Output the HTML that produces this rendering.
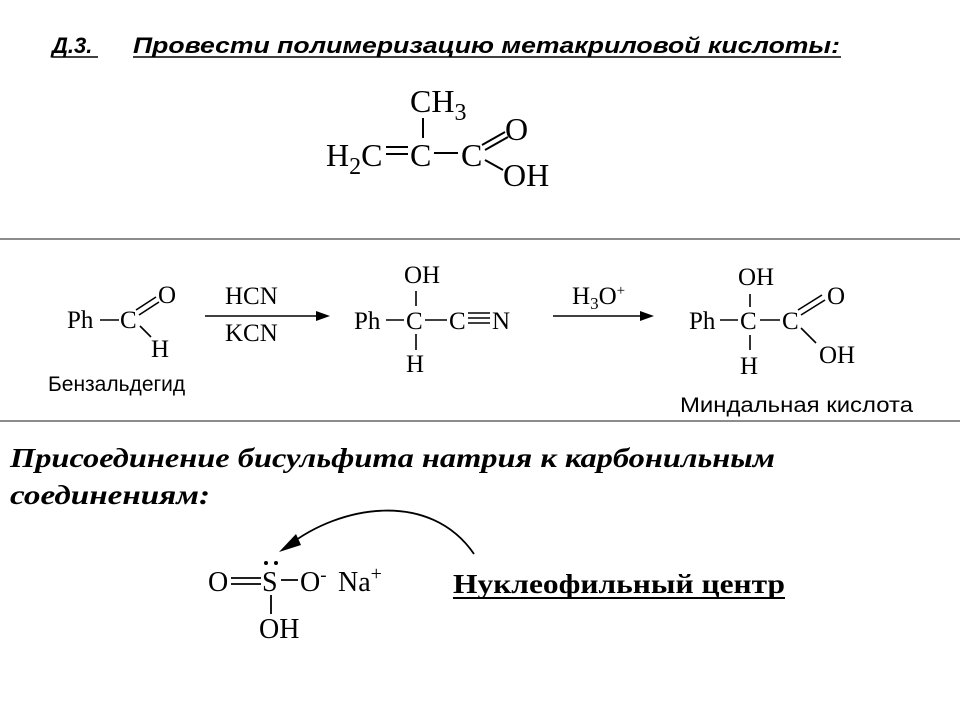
<!DOCTYPE html>
<html><head><meta charset="utf-8"><style>
html,body{margin:0;padding:0;background:#fff;}
svg{display:block;}
.t{font-family:"Liberation Serif",serif;fill:#000;}
.a{font-family:"Liberation Sans",sans-serif;fill:#000;}
</style></head><body>
<svg width="960" height="720" viewBox="0 0 960 720" xmlns="http://www.w3.org/2000/svg">
<rect width="960" height="720" fill="#fff"/>
<!-- title -->
<text class="a" x="52" y="53" font-size="22" font-weight="bold" font-style="italic">Д.3.</text>
<line x1="52" y1="57" x2="98" y2="57" stroke="#000" stroke-width="1.5"/>
<text class="a" x="133" y="53" font-size="22" font-weight="bold" font-style="italic" textLength="707" lengthAdjust="spacingAndGlyphs">Провести полимеризацию метакриловой кислоты:</text>
<line x1="133" y1="57" x2="841" y2="57" stroke="#000" stroke-width="1.5"/>
<!-- methacrylic acid -->
<g class="t" font-size="32">
<text x="410" y="112">CH<tspan font-size="24" dy="8">3</tspan></text>
<text x="326" y="166">H<tspan font-size="24" dy="8">2</tspan><tspan dy="-8">C</tspan></text>
<text x="410" y="166">C</text>
<text x="461" y="166">C</text>
<text x="505" y="140">O</text>
<text x="503" y="186">OH</text>
</g>
<g stroke="#000" stroke-width="2">
<line x1="386" y1="147" x2="408" y2="147"/><line x1="386" y1="154" x2="408" y2="154"/>
<line x1="434" y1="153" x2="458" y2="153"/>
<line x1="423" y1="118" x2="423" y2="138"/>
<line x1="482" y1="145" x2="505" y2="132"/><line x1="485" y1="150" x2="508" y2="137"/>
<line x1="485" y1="160" x2="503" y2="170"/>
</g>
<line x1="0" y1="239" x2="960" y2="239" stroke="#666" stroke-width="1.5"/>
<line x1="0" y1="421" x2="960" y2="421" stroke="#666" stroke-width="1.5"/>
<!-- reaction row -->
<g class="t" font-size="25">
<text x="67" y="328">Ph</text>
<text x="120" y="328">C</text>
<text x="158" y="303">O</text>
<text x="151" y="357">H</text>
<text x="225" y="304">HCN</text>
<text x="225" y="341">KCN</text>
<text x="354" y="329">Ph</text>
<text x="406" y="329">C</text>
<text x="449" y="329">C</text>
<text x="492" y="329">N</text>
<text x="404" y="283">OH</text>
<text x="406" y="372">H</text>
<text x="572" y="304">H<tspan font-size="17" dy="5">3</tspan><tspan dy="-5">O</tspan><tspan font-size="15" dy="-9">+</tspan></text>
<text x="689" y="329">Ph</text>
<text x="740" y="329">C</text>
<text x="782" y="329">C</text>
<text x="827" y="304">O</text>
<text x="819" y="363">OH</text>
<text x="738" y="285">OH</text>
<text x="740" y="374">H</text>
</g>
<g stroke="#000" stroke-width="1.6">
<line x1="100" y1="320" x2="119" y2="320"/>
<line x1="136" y1="310" x2="156" y2="297"/><line x1="139" y1="315" x2="159" y2="302"/>
<line x1="140" y1="326" x2="151" y2="337"/>
<line x1="205" y1="316" x2="318" y2="316"/>
<line x1="386" y1="320" x2="404" y2="320"/>
<line x1="425" y1="320" x2="447" y2="320"/>
<line x1="416" y1="291" x2="416" y2="306"/>
<line x1="416" y1="334" x2="416" y2="350"/>
<line x1="468" y1="313" x2="490" y2="313"/><line x1="468" y1="318" x2="490" y2="318"/><line x1="468" y1="323" x2="490" y2="323"/>
<line x1="553" y1="316" x2="640" y2="316"/>
<line x1="720" y1="320" x2="738" y2="320"/>
<line x1="760" y1="320" x2="780" y2="320"/>
<line x1="750" y1="294" x2="750" y2="307"/>
<line x1="750" y1="335" x2="750" y2="350"/>
<line x1="798" y1="310" x2="822" y2="295"/><line x1="801" y1="315" x2="825" y2="300"/>
<line x1="801" y1="328" x2="816" y2="343"/>
</g>
<polygon points="330,316 316,311 316,321" fill="#000"/>
<polygon points="654,316 640,311 640,321" fill="#000"/>
<text class="a" x="48" y="391" font-size="21">Бензальдегид</text>
<text class="a" x="680" y="412" font-size="21" textLength="233" lengthAdjust="spacingAndGlyphs">Миндальная кислота</text>
<!-- bisulfite -->
<text class="t" x="10" y="467" font-size="27" font-weight="bold" font-style="italic" textLength="765" lengthAdjust="spacingAndGlyphs">Присоединение бисульфита натрия к карбонильным</text>
<text class="t" x="10" y="504" font-size="27" font-weight="bold" font-style="italic" textLength="200" lengthAdjust="spacingAndGlyphs">соединениям:</text>
<g class="t" font-size="28">
<text x="208" y="591">O</text>
<text x="262" y="591">S</text>
<text x="300" y="591">O<tspan font-size="19" dy="-10">-</tspan></text>
<text x="338" y="591">Na<tspan font-size="20" dy="-11">+</tspan></text>
<text x="259" y="638">OH</text>
</g>
<g stroke="#000" stroke-width="1.8" fill="none">
<line x1="231" y1="578" x2="261" y2="578"/><line x1="231" y1="584" x2="261" y2="584"/>
<line x1="281" y1="580" x2="298" y2="580"/>
<line x1="271" y1="595" x2="271" y2="614"/>
<path d="M474,554 C430,490 340,505 288,546"/>
</g>
<polygon points="279,552 296,534 301,545" fill="#000"/>
<circle cx="266" cy="563" r="2" fill="#000"/><circle cx="276" cy="563" r="2" fill="#000"/>
<text class="t" x="453" y="593" font-size="27" font-weight="bold" textLength="332" lengthAdjust="spacingAndGlyphs">Нуклеофильный центр</text>
<line x1="453" y1="598" x2="785" y2="598" stroke="#000" stroke-width="2"/>
</svg>
</body></html>
